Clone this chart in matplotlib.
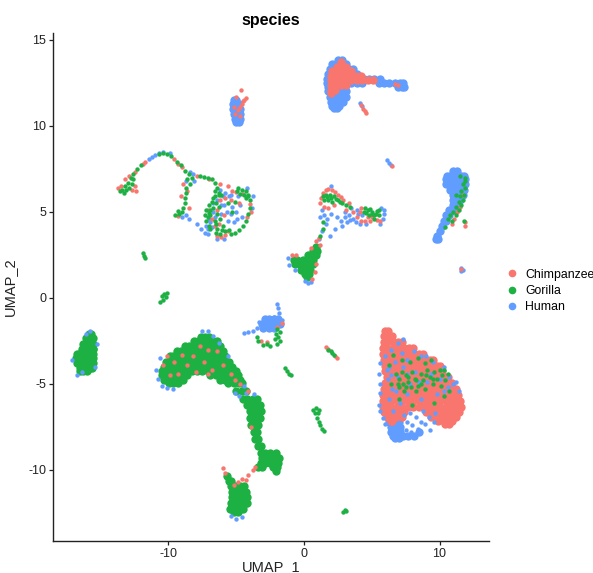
import matplotlib
matplotlib.use('Agg')
import matplotlib.pyplot as plt
from matplotlib.lines import Line2D

plt.rcParams['font.family'] = ['Liberation Sans', 'DejaVu Sans']
plt.rcParams['axes.unicode_minus'] = False

# ==============================================================
# DATA (UMAP units)
# dense parts as rows: (umap_2, [umap_1, ...])
# ==============================================================
species = ['Chimpanzee', 'Gorilla', 'Human']
x_ticks = [-10, 0, 10]
y_ticks = [-10, -5, 0, 5, 10, 15]

human_rows = [
    # top cluster
    (13.85, [2.5, 2.8]), (13.6, [2.1, 2.4, 2.8, 3.1]), (13.3, [1.9, 2.1, 2.5, 2.9, 3.3, 3.6]),
    (13.0, [1.8, 2.0, 2.4, 2.8, 3.2, 3.6, 3.9]), (12.7, [1.7, 1.9, 2.3, 2.7, 3.1, 3.5, 3.9, 4.4, 4.8, 5.2, 5.6]),
    (12.5, [1.7, 1.9, 2.3, 2.7, 3.1, 3.5, 3.9, 4.3, 5.5, 5.9, 6.3, 6.7, 7.1, 7.3]),
    (12.25, [1.8, 2.0, 2.4, 2.8, 3.0, 6.9, 7.2, 7.4]), (12.0, [1.8, 2.0, 2.4, 2.8, 3.1]),
    (11.7, [1.9, 2.1, 2.5, 2.9, 3.1]), (11.4, [2.0, 2.2, 2.6, 2.9]), (11.15, [2.1, 2.3, 2.6]), (11.05, [2.25, 2.45]),
    # blob at -5, 11
    (11.5, [-5.2, -5.0]), (11.25, [-5.25, -5.0, -4.8]), (11.0, [-5.25, -5.0, -4.75]),
    (10.7, [-5.2, -5.0, -4.75]), (10.4, [-5.1, -4.9, -4.7]), (10.2, [-5.0, -4.8]),
    # right streak
    (7.35, [11.0, 11.3]), (7.1, [10.55, 10.8, 11.2, 11.6, 11.8]), (6.9, [10.45, 10.7, 11.1, 11.5, 11.9]),
    (6.6, [10.5, 10.8, 11.2, 11.6, 11.9]), (6.3, [10.8, 11.1, 11.5, 11.8]), (6.0, [11.0, 11.3, 11.7]),
    (5.7, [11.0, 11.3, 11.5]), (5.4, [11.0, 11.2, 11.3]), (5.1, [10.7, 10.9, 11.0]), (4.8, [10.5, 10.7]),
    (4.5, [10.3, 10.5]), (4.2, [10.15]), (3.9, [10.0]), (3.6, [9.85]), (3.45, [9.75, 9.9]),
    # bottom of wedge
    (-7.2, [6.3, 6.6, 7.0]), (-7.5, [6.4, 6.7, 7.1]), (-7.8, [6.4, 6.7, 7.1, 8.5]),
    (-8.0, [6.6, 6.9, 7.3, 7.7, 8.1]), (-8.15, [6.75, 7.0]),
    # patch near -3, -1.5
    (-1.25, [-2.9, -2.6, -2.2, -1.95]), (-1.5, [-3.1, -2.8, -2.4, -2.0, -1.75]), (-1.75, [-3.0, -2.6, -2.2]),
]
human_pts = [
    (4.1, 11.35), (4.25, 11.15), (6.1, 8.0), (6.25, 7.85), (6.4, 7.75), (11.55, 1.75), (11.7, 1.65), (11.55, 1.55),
    (-11.4, 8.1), (-11.2, 8.2), (-11.0, 8.3), (-10.7, 8.45), (-10.4, 8.5), (-9.9, 8.4),
    (-8.4, 7.3), (-8.2, 7.2), (-8.7, 6.8), (-8.1, 6.8), (-9.0, 4.7), (-8.7, 4.8), (-8.5, 4.6), (-7.9, 4.3), (-7.6, 4.0),
    (-7.3, 3.8), (-7.1, 3.7), (-7.2, 4.2), (-7.0, 4.6), (-6.8, 4.1), (-6.7, 5.0), (-6.4, 5.7), (-6.0, 5.9), (-5.9, 5.4),
    (-5.7, 5.0), (-5.3, 5.3), (-5.0, 5.0), (-4.7, 5.4), (-5.6, 4.5), (-5.2, 4.4), (-5.4, 6.0), (-4.9, 5.9), (-5.8, 6.1),
    (-6.2, 6.3), (-6.4, 3.4), (-5.9, 3.45), (-6.1, 4.9), (-4.6, 4.7), (-4.2, 6.4), (-3.8, 5.9), (-3.85, 5.2),
    (-6.9, 4.4), (-6.6, 4.7), (-7.1, 4.0), (-6.7, 5.5), (-6.1, 5.4), (-5.5, 5.9), (-4.95, 4.6), (-5.4, 4.9),
    (2.0, 6.5), (1.3, 5.1), (1.5, 4.8), (1.7, 4.6), (2.0, 4.9), (2.4, 4.7), (2.7, 4.5), (1.6, 4.3), (1.3, 3.9), (1.1, 3.4),
    (3.0, 5.0), (3.3, 4.8), (3.6, 4.6), (3.9, 5.1), (3.2, 4.4), (3.8, 4.4), (4.1, 4.3), (5.9, 4.9), (5.8, 4.6), (5.7, 5.2),
    (2.8, 4.2), (2.3, 4.0), (1.9, 3.6), (-1.2, 2.3), (-1.1, 1.9), (-0.7, 1.6), (0.1, 1.0), (0.3, 0.85), (0.5, 0.95),
    (3.5, 5.2), (4.0, 4.9), (3.0, 4.7), (3.4, 4.55), (4.3, 4.8), (1.2, 4.7), (5.9, 5.1), (5.6, 4.3), (4.6, 4.3),
    (-4.4, -2.05), (-4.1, -2.0), (-3.8, -1.9), (-3.5, -1.75), (-3.3, -1.4), (-1.9, -0.6), (-1.85, -0.9), (-2.0, -0.35),
    (-2.2, -1.1), (-1.6, -1.3),
    # edges of the green parts
    (-15.8, -1.95), (-16.1, -2.1), (-16.75, -4.5), (-16.4, -4.3), (-15.4, -4.0), (-15.3, -2.7), (-17.1, -3.6),
    (-10.9, -4.2), (-10.8, -4.7), (-10.5, -5.1), (-10.1, -5.25), (-9.7, -5.3), (-10.6, -3.5), (-7.5, -1.95), (-7.1, -1.95),
    (-6.7, -2.2), (-6.3, -2.6), (-5.6, -3.4), (-4.4, -5.1), (-4.8, -5.7), (-3.7, -5.6), (-4.6, -12.75), (-5.0, -12.85),
    (-5.4, -12.7), (-4.3, -5.5), (-5.1, -5.5),
    # specks over the wedge
    (6.0, -3.4), (5.6, -3.8), (5.55, -4.4), (5.6, -5.0), (5.6, -5.5), (5.55, -6.2), (5.6, -6.6), (5.8, -7.0), (6.0, -7.3),
    (6.4, -3.0), (6.9, -2.6), (7.3, -2.4), (6.3, -4.0), (6.7, -3.7), (6.2, -4.7), (6.5, -5.3), (6.9, -4.6), (7.2, -3.2),
    (7.6, -3.6), (8.1, -3.1), (8.6, -3.4), (9.0, -3.4), (9.5, -3.7), (10.3, -4.0), (10.7, -4.6), (11.0, -5.0), (11.2, -4.9),
    (10.6, -5.2), (11.4, -5.4), (9.8, -5.6), (8.6, -5.9), (7.6, -5.6), (7.1, -6.1), (6.6, -6.6), (8.8, -6.6), (7.4, -6.8),
    (7.8, -6.7), (8.3, -6.9), (7.6, -7.2), (8.0, -7.4), (8.4, -7.6), (8.9, -7.3), (9.2, -6.9), (7.5, -7.7), (9.3, -7.7),
    (7.9, -7.8), (8.6, -7.2), (9.6, -7.2), (9.7, -6.7), (7.3, -4.0), (8.2, -4.3), (9.1, -4.9), (10.0, -4.7),
    (6.1, -4.2), (6.4, -4.5), (7.6, -4.4), (8.5, -4.9), (9.4, -4.4), (6.8, -5.4), (7.8, -5.0), (10.3, -5.4), (6.3, -5.9),
]

chimp_rows = [
    # top cluster
    (13.7, [2.7]), (13.45, [2.4, 2.8, 3.1]), (13.2, [2.1, 2.4, 2.8, 3.2, 3.5]),
    (12.9, [2.0, 2.3, 2.7, 3.1, 3.5, 3.9, 4.2]), (12.65, [2.0, 2.3, 2.7, 3.1, 3.5, 3.9, 4.3, 4.7, 5.1]),
    (12.4, [2.0, 2.3, 2.7, 3.1]), (12.1, [2.0, 2.3]), (11.9, [2.0]),
    # wedge
    (-1.95, [5.95, 6.2]), (-2.2, [5.9, 6.2, 6.5]), (-2.55, [5.9, 6.15, 6.55, 6.95, 7.2]),
    (-2.9, [5.85, 6.15, 6.55, 6.95, 7.35, 7.75, 8.05]),
    (-3.25, [5.85, 6.1, 6.5, 6.9, 7.3, 7.7, 8.1, 8.5, 8.8]),
    (-3.6, [5.9, 6.2, 6.6, 7.0, 7.4, 7.8, 8.2, 8.6, 9.0, 9.3, 9.5]),
    (-3.95, [6.0, 6.3, 6.7, 7.1, 7.5, 7.9, 8.3, 8.7, 9.1, 9.5, 9.8, 10.0]),
    (-4.25, [6.0, 6.3, 6.7, 7.1, 7.5, 7.9, 8.3, 8.7, 9.1, 9.5, 9.9, 10.2]),
    (-4.6, [6.1, 6.4, 6.8, 7.2, 7.6, 8.0, 8.4, 8.8, 9.2, 9.6, 10.0, 10.4, 10.65]),
    (-4.95, [6.0, 6.3, 6.7, 7.1, 7.5, 7.9, 8.3, 8.7, 9.1, 9.5, 9.9, 10.3, 10.7, 10.95]),
    (-5.3, [5.9, 6.2, 6.6, 7.0, 7.4, 7.8, 8.2, 8.6, 9.0, 9.4, 9.8, 10.2, 10.6, 11.0, 11.2]),
    (-5.65, [5.85, 6.1, 6.5, 6.9, 7.3, 7.7, 8.1, 8.5, 8.9, 9.3, 9.7, 10.1, 10.5, 10.9, 11.2, 11.35]),
    (-6.0, [5.8, 6.05, 6.45, 6.85, 7.25, 7.65, 8.05, 8.45, 8.85, 9.25, 9.65, 10.05, 10.45, 10.85, 11.25, 11.5]),
    (-6.35, [5.8, 6.05, 6.45, 6.85, 7.25, 7.65, 8.05, 8.45, 8.85, 9.25, 9.65, 10.05, 10.45, 10.85, 11.25, 11.55]),
    (-6.65, [5.9, 6.2, 6.6, 7.0, 7.4, 9.0, 9.4, 9.8, 10.2, 10.6, 11.0, 11.3, 11.45]),
    (-6.9, [6.1, 6.4, 6.8, 7.2, 9.4, 9.8, 10.2, 10.6, 11.0, 11.2]),
    (-7.15, [6.4, 6.5, 9.9, 10.3, 10.7, 10.95]), (-7.35, [10.4, 10.7]),
]
chimp_pts = [
    (4.2, 11.2), (4.35, 11.0), (4.5, 10.85), (4.6, 10.75), (6.7, 12.45), (6.9, 12.35), (6.5, 7.67), (11.6, 1.7),
    (-4.9, 10.95), (-4.7, 11.1), (-5.2, 11.1), (-4.5, 11.45), (-4.3, 11.6), (-4.7, 10.6), (-5.0, 11.7), (-4.65, 12.1),
    (-4.6, 11.3), (-4.4, 11.5), (-5.1, 10.7),
    (-13.5, 6.5), (-13.2, 6.9), (-12.9, 7.1), (-12.7, 6.3), (-12.5, 6.5), (-12.4, 6.2), (-13.7, 6.4), (-12.5, 7.3),
    (-11.9, 7.8), (-11.7, 7.9), (-9.6, 8.1), (-9.3, 7.8), (-9.0, 7.6), (-8.9, 6.6), (-8.6, 6.2), (-9.1, 5.9), (-8.5, 5.2),
    (-9.3, 4.75), (-7.9, 7.1), (-7.0, 6.9), (-6.2, 6.6), (-5.6, 6.5), (-5.3, 6.2), (-5.0, 6.15), (-4.5, 6.05), (-4.0, 5.45),
    (-3.9, 5.0), (-4.2, 4.7), (-5.8, 3.65), (-6.1, 3.55), (-5.6, 3.9), (-6.4, 3.6), (-6.6, 4.2), (-6.8, 4.6), (-6.4, 5.1),
    (-7.05, 5.1), (-6.2, 5.7), (-5.8, 5.8), (-5.4, 5.7), (-4.8, 5.5), (-5.9, 4.8), (-6.3, 4.3),
    (1.8, 6.35), (2.1, 6.3), (1.4, 6.1), (2.5, 6.0), (2.9, 5.7), (1.2, 5.5), (1.5, 5.3), (1.8, 5.2), (2.2, 5.4), (3.6, 5.0),
    (3.9, 4.7), (4.2, 4.5), (4.5, 4.5), (4.9, 4.5), (4.2, 5.2), (4.7, 4.7), (5.6, 4.5), (3.1, 5.1),
    (1.6, 6.3), (2.3, 6.15), (1.25, 5.8), (2.7, 5.85), (3.3, 5.5), (4.1, 5.0), (5.0, 4.7), (5.35, 4.55),
    (0.9, 3.3), (1.1, 3.5), (1.2, 3.1), (0.5, 2.9), (-0.9, 2.5), (-0.6, 2.5), (0.9, 2.0), (0.8, 1.5), (0.6, 1.1),
    (11.3, 5.0), (11.5, 5.3), (11.85, 4.4), (11.9, 4.2), (11.1, 4.6), (10.9, 4.3), (11.7, 6.0),
    (-1.65, -1.47), (-2.0, -1.7), (-3.2, -2.5), (-2.7, -2.55), (1.6, -2.85), (1.75, -2.95), (2.3, -3.4), (2.4, -3.5),
    # specks in the crescent
    (-10.4, -3.9), (-10.1, -3.4), (-9.6, -3.7), (-9.3, -4.4), (-9.0, -3.3), (-8.6, -3.9), (-8.2, -3.4), (-8.0, -4.3),
    (-7.7, -2.8), (-7.4, -3.7), (-7.1, -3.0), (-6.8, -4.2), (-6.4, -3.1), (-6.0, -3.9), (-5.4, -4.4), (-5.1, -4.8),
    (-4.7, -5.0), (-4.1, -5.4), (-3.9, -7.5), (-5.95, -9.9), (-5.8, -10.2), (-4.9, -10.7), (-4.6, -10.5), (-4.3, -10.6),
    (-4.1, -10.3), (-3.8, -10.0), (-3.6, -9.8), (-5.2, -10.9), (-9.9, -4.5), (-7.1, -4.4),
]

gorilla_rows = [
    # far left cluster
    (-2.1, [-15.9, -15.7]), (-2.35, [-16.1, -15.9, -15.6]), (-2.65, [-16.3, -16.1, -15.8, -15.6]),
    (-2.95, [-16.4, -16.2, -15.9, -15.6, -15.55]), (-3.25, [-16.75, -16.6, -16.3, -16.0, -15.7, -15.55]),
    (-3.5, [-16.85, -16.7, -16.4, -16.1, -15.8, -15.6]), (-3.8, [-16.75, -16.6, -16.3, -16.0, -15.7, -15.6]),
    (-4.05, [-16.55, -16.4, -16.1, -15.8, -15.65]), (-4.25, [-16.5, -16.3, -16.0]),
    # crescent
    (-2.25, [-7.6, -7.3, -7.0]), (-2.5, [-8.1, -7.8, -7.4, -7.0, -6.7, -6.4]),
    (-2.8, [-8.8, -8.5, -8.1, -7.7, -7.3, -6.9, -6.5, -6.2]),
    (-3.1, [-9.4, -9.1, -8.7, -8.3, -7.9, -7.5, -7.1, -6.7, -6.3, -6.0]),
    (-3.4, [-9.9, -9.7, -9.3, -8.9, -8.5, -8.1, -7.7, -7.3, -6.9, -6.5, -6.1, -5.8]),
    (-3.7, [-10.15, -9.9, -9.5, -9.1, -8.7, -8.3, -7.9, -7.5, -7.1, -6.7, -6.3, -5.9, -5.55]),
    (-4.0, [-10.35, -10.1, -9.7, -9.3, -8.9, -8.5, -8.1, -7.7, -7.3, -6.9, -6.5, -6.1, -5.7, -5.3]),
    (-4.25, [-10.5, -10.3, -9.9, -9.5, -9.1, -8.7, -8.3, -7.9, -7.5, -7.1, -6.7, -6.3, -5.9, -5.5, -5.05]),
    (-4.5, [-10.45, -10.2, -9.8, -9.4, -9.0, -8.6, -6.9, -6.5, -6.1, -5.7, -5.3, -4.85]),
    (-4.75, [-10.3, -10.1, -9.7, -9.3, -8.9, -6.2, -5.8, -5.4, -5.0, -4.7]),
    (-4.95, [-9.95, -9.7, -9.3, -5.6, -5.2, -4.8, -4.55]), (-5.4, [-5.0, -4.6, -4.3]),
    (-5.85, [-4.5, -4.2, -3.8, -3.5]), (-6.2, [-4.2, -3.9, -3.5, -3.25]), (-6.6, [-4.0, -3.7, -3.4, -3.15]),
    (-7.0, [-3.95, -3.7, -3.4, -3.25]), (-7.4, [-3.9, -3.6, -3.4]), (-7.8, [-3.7, -3.5]), (-8.2, [-3.6, -3.4]),
    (-8.6, [-3.4, -3.2]), (-9.0, [-3.2, -2.9, -2.5, -2.1]), (-9.3, [-3.1, -2.8, -2.4, -2.0, -1.85]),
    (-9.6, [-3.2, -2.9, -2.5, -2.1, -1.9]), (-9.85, [-3.4, -3.1, -2.3, -2.0]), (-10.05, [-2.1]),
    # lower blob
    (-10.35, [-5.7]), (-10.65, [-5.55, -5.4]), (-10.95, [-5.35, -5.1, -4.7, -4.4]), (-11.3, [-5.3, -5.0, -4.6, -4.3]),
    (-11.6, [-5.3, -5.0, -4.6, -4.3, -4.2]), (-11.95, [-5.4, -5.1, -4.7, -4.3, -4.2]),
    (-12.25, [-5.45, -5.2, -4.8, -4.5]), (-12.45, [-5.15, -4.85]),
    # triangle in the middle
    (2.95, [0.9]), (2.75, [0.7, 0.95]), (2.5, [0.3, 0.6, 0.85]), (2.2, [-0.75, -0.5, -0.1, 0.3, 0.7]),
    (1.95, [-0.65, -0.4, 0.0, 0.4, 0.65]), (1.65, [-0.2, 0.1, 0.45]), (1.4, [0.05, 0.35]), (1.2, [0.2]),
]
gorilla_pts = [
    (-13.6, 6.2), (-13.4, 6.3), (-13.2, 6.5), (-13.0, 6.7), (-12.9, 6.4), (-12.8, 7.0), (-12.7, 6.6), (-12.6, 7.2),
    (-13.3, 6.1), (-13.1, 6.3), (-12.6, 6.9), (-12.3, 7.5), (-12.0, 7.7), (-10.7, 8.35), (-10.4, 8.4), (-10.1, 8.35),
    (-9.8, 8.25), (-9.4, 7.9), (-9.1, 7.7), (-8.8, 7.4), (-8.5, 7.2), (-8.3, 7.0), (-8.6, 6.9), (-8.4, 6.6), (-8.7, 6.4),
    (-8.7, 6.1), (-8.8, 5.8), (-8.8, 5.5), (-8.9, 5.2), (-9.0, 5.0), (-9.2, 4.9), (-9.5, 4.8), (-9.3, 5.05),
    (-7.7, 7.1), (-7.4, 7.05), (-7.1, 7.0), (-6.8, 6.9), (-6.6, 6.7), (-6.4, 6.4), (-6.3, 6.1),
    (-4.9, 6.4), (-4.6, 6.3), (-4.3, 6.2), (-4.1, 6.0), (-3.95, 5.7), (-4.15, 5.95), (-4.0, 5.2), (-4.1, 4.9), (-4.3, 4.5),
    (-4.5, 4.2), (-4.8, 3.95), (-5.1, 3.8), (-5.4, 3.7), (-7.0, 4.2), (-7.2, 4.5), (-7.3, 4.8), (-7.2, 5.1), (-7.0, 5.4),
    (-6.8, 5.6), (-6.6, 5.9), (-6.3, 6.0), (-6.9, 4.8), (-6.7, 5.2), (-6.5, 5.5), (-6.6, 4.5), (-6.4, 4.9), (-6.9, 4.0),
    (-6.5, 3.8), (-6.2, 3.7), (-6.0, 4.2), (-5.8, 3.9), (-6.3, 5.3), (-6.2, 4.6), (-5.6, 5.5), (-5.3, 5.0), (-5.1, 5.6),
    (-6.1, 6.0), (-6.4, 4.0), (-6.9, 5.1), (-7.1, 4.7), (-6.75, 5.8), (-6.5, 4.3), (-6.05, 3.95), (-5.5, 3.95), (-7.0, 4.95),
    (-4.7, 6.05), (-4.4, 6.0), (-4.95, 6.2), (-4.25, 5.8), (-6.55, 6.2),
    (1.4, 5.9), (1.6, 6.0), (1.9, 6.0), (2.2, 5.9), (2.5, 5.7), (1.5, 5.7), (1.8, 5.7), (2.1, 5.6), (2.8, 5.5), (3.1, 5.4),
    (3.4, 5.3), (4.4, 5.0), (4.7, 5.1), (5.0, 5.0), (5.3, 4.9), (5.5, 4.8), (5.2, 4.6), (4.8, 4.8), (4.5, 5.2), (5.5, 5.1),
    (1.4, 4.0), (1.2, 3.6), (1.4, 4.4), (1.7, 5.85), (2.0, 5.8), (2.35, 5.75), (2.65, 5.55), (4.6, 4.95), (4.9, 5.15),
    (5.15, 4.8), (5.4, 5.05), (5.0, 4.85),
    (11.9, 6.8), (11.7, 6.6), (11.9, 6.4), (11.6, 6.2), (11.8, 6.0), (11.5, 5.9), (11.7, 5.7), (11.4, 5.6), (11.6, 5.4),
    (11.2, 5.3), (11.4, 5.1), (11.0, 5.0), (11.2, 4.8), (10.8, 4.8), (10.9, 4.5), (10.6, 4.6), (10.4, 4.1), (11.5, 7.1),
    (11.9, 7.0), (11.2, 6.0), (11.8, 4.5),
    # small islands
    (-11.9, 2.6), (-11.8, 2.45), (-11.7, 2.3), (-10.5, 0.1), (-10.3, 0.2), (-10.1, 0.3), (-10.4, -0.1), (-10.6, -0.25),
    (-10.2, 0.05), (1.8, -3.0), (2.0, -3.1), (2.1, -3.2), (2.2, -3.3), (3.0, -12.35), (2.9, -12.45), (3.1, -12.4),
    (-1.4, -4.1), (-1.25, -4.25), (-1.1, -4.4), (-0.95, -4.5),
    (0.7, -6.5), (0.9, -6.4), (1.1, -6.5), (0.8, -6.7), (1.05, -6.7), (0.95, -7.0), (1.1, -7.2), (1.2, -7.4), (1.35, -7.6), (1.45, -7.75),
    # patch near -3, -1.5
    (-2.0, -1.8), (-1.8, -2.0), (-2.1, -2.1), (-1.9, -2.3), (-2.15, -2.4), (-1.75, -2.5), (-2.0, -2.7), (-3.5, -2.3),
    (-3.4, -2.5), (-2.7, -2.7), (-2.5, -2.8), (-3.0, -2.75),
    # specks over the wedge
    (6.8, -4.4), (7.0, -4.7), (7.3, -5.0), (7.5, -4.5), (7.7, -4.9), (8.0, -4.3), (8.2, -4.7), (8.4, -5.1), (8.6, -4.4),
    (8.8, -4.8), (9.1, -4.2), (9.3, -4.6), (9.6, -4.3), (9.8, -4.7), (10.0, -4.2), (10.2, -4.5), (10.4, -4.8), (10.6, -4.4),
    (7.0, -5.2), (7.4, -5.4), (7.9, -5.2), (8.3, -5.4), (8.9, -5.3), (9.5, -5.0), (10.1, -5.1), (10.7, -5.4), (6.3, -3.9),
    (6.6, -3.3), (7.2, -3.6), (7.8, -3.7), (8.4, -3.5), (8.9, -3.8), (9.4, -3.6), (6.4, -5.0), (7.0, -5.9), (9.6, -6.1),
    (8.0, -6.2), (10.3, -5.7), (7.2, -4.3), (7.7, -4.6), (8.3, -4.8), (9.0, -4.5), (9.5, -4.7), (10.3, -4.2), (7.5, -5.2),
    (8.6, -5.0), (6.9, -5.0),
]


def rows_to_xy(rows, pts):
    xs = [x for row_y, row_x in rows for x in row_x]
    ys = [row_y for row_y, row_x in rows for x in row_x]
    return xs, ys, [p[0] for p in pts], [p[1] for p in pts]


# ==============================================================
# PLOT
# ==============================================================
colors = {'Chimpanzee': '#F8766D', 'Gorilla': '#1DB144', 'Human': '#619CFF'}
big = 36
small = 10

fig = plt.figure(figsize=(5.93, 5.73), dpi=100)
ax = fig.add_axes([53 / 593, 32 / 573, 436 / 593, 508 / 573])

hx, hy, hx2, hy2 = rows_to_xy(human_rows, human_pts)
cx, cy, cx2, cy2 = rows_to_xy(chimp_rows, chimp_pts)
gx, gy, gx2, gy2 = rows_to_xy(gorilla_rows, gorilla_pts)

# dense parts first, specks on top
ax.scatter(hx, hy, s=big, color=colors['Human'], linewidths=0)
ax.scatter(cx, cy, s=big, color=colors['Chimpanzee'], linewidths=0)
ax.scatter(gx, gy, s=big, color=colors['Gorilla'], linewidths=0)
ax.scatter(hx2, hy2, s=small, color=colors['Human'], linewidths=0)
ax.scatter(cx2, cy2, s=small, color=colors['Chimpanzee'], linewidths=0)
ax.scatter(gx2, gy2, s=small, color=colors['Gorilla'], linewidths=0)

ax.set_xlim(-18.52, 13.65)
ax.set_ylim(-14.13, 15.4)
ax.set_xticks(x_ticks)
ax.set_yticks(y_ticks)
ax.tick_params(labelsize=9, length=3, width=0.9, colors='#222222', pad=2)
for side in ['top', 'right']:
    ax.spines[side].set_visible(False)
for side in ['left', 'bottom']:
    ax.spines[side].set_linewidth(1.0)
    ax.spines[side].set_color('#222222')

ax.set_xlabel('UMAP_1', fontsize=10.5, color='#222222')
ax.set_ylabel('UMAP_2', fontsize=10.5, color='#222222')
ax.xaxis.set_label_coords(0.5, -0.038)
ax.yaxis.set_label_coords(-0.082, 0.5)
ax.set_title('species', fontsize=11.5, fontweight='bold', pad=6)

handles = [Line2D([], [], linestyle='', marker='o', markersize=5.5, markeredgewidth=0,
                  color=colors[name], label=name) for name in species]
fig.legend(handles=handles, loc='center left', bbox_to_anchor=(500 / 593, 1 - 291 / 573),
           frameon=False, fontsize=8.8, handletextpad=0.05, labelspacing=0.35,
           borderpad=0, borderaxespad=0)

fig.savefig('out.png', dpi=100)
